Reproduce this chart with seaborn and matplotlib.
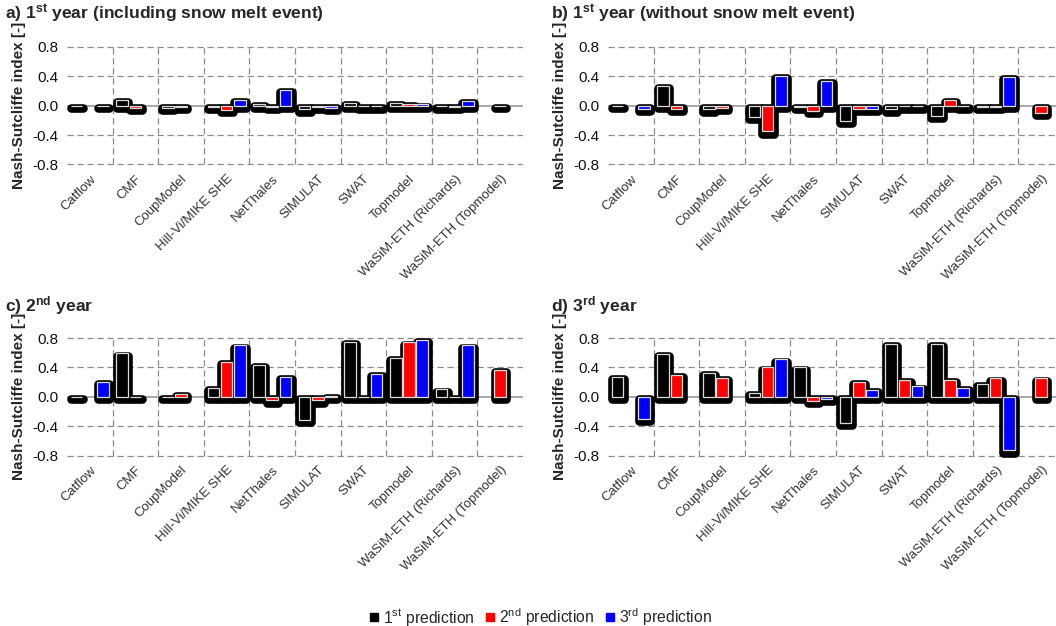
import numpy as np
import pandas as pd
import matplotlib
matplotlib.use("Agg")
import matplotlib.pyplot as plt
import matplotlib.patheffects as pe
from matplotlib.patches import Rectangle
from matplotlib.lines import Line2D
import seaborn as sns

models = ["Catflow", "CMF", "CoupModel", "Hill-Vi/MIKE SHE", "NetThales", "SIMULAT",
          "SWAT", "Topmodel", "WaSiM-ETH (Richards)", "WaSiM-ETH (Topmodel)"]
predictions = ["1st", "2nd", "3rd"]
nan = np.nan

# panel a) 1st year including snow melt event
a_p1 = [0.0, 0.08, -0.03, -0.02, 0.03, -0.05, 0.04, 0.04, -0.01, nan]
a_p2 = [nan, -0.03, -0.02, -0.06, -0.02, -0.02, -0.01, 0.03, -0.02, 0.0]
a_p3 = [0.0, nan, nan, 0.08, 0.22, -0.03, -0.01, 0.02, 0.07, nan]
# panel b) 1st year without snow melt event
b_p1 = [0.0, 0.27, -0.05, -0.15, -0.02, -0.21, -0.05, -0.14, -0.02, nan]
b_p2 = [nan, -0.04, -0.03, -0.35, -0.07, -0.04, -0.01, 0.08, -0.02, -0.10]
b_p3 = [-0.04, nan, nan, 0.41, 0.34, -0.04, -0.01, -0.01, 0.39, nan]
# panel c) 2nd year
c_p1 = [0.0, 0.59, 0.0, 0.12, 0.43, -0.32, 0.75, 0.53, 0.10, nan]
c_p2 = [nan, 0.0, 0.04, 0.47, -0.05, -0.05, 0.0, 0.74, 0.0, 0.37]
c_p3 = [0.20, nan, nan, 0.70, 0.27, 0.01, 0.31, 0.77, 0.70, nan]
# panel d) 3rd year
d_p1 = [0.27, 0.58, 0.32, 0.05, 0.40, -0.36, 0.72, 0.72, 0.18, nan]
d_p2 = [nan, 0.30, 0.26, 0.40, -0.06, 0.20, 0.23, 0.23, 0.25, 0.25]
d_p3 = [-0.30, nan, nan, 0.51, -0.03, 0.09, 0.14, 0.12, -0.73, nan]

panel_titles = [r"a) 1$^{\mathbf{st}}$ year (including snow melt event)",
                r"b) 1$^{\mathbf{st}}$ year (without snow melt event)",
                r"c) 2$^{\mathbf{nd}}$ year",
                r"d) 3$^{\mathbf{rd}}$ year"]
panel_data = [(a_p1, a_p2, a_p3), (b_p1, b_p2, b_p3), (c_p1, c_p2, c_p3), (d_p1, d_p2, d_p3)]
yticks = [-0.8, -0.4, 0.0, 0.4, 0.8]
legend_labels = [r"1$^{\rm st}$ prediction", r"2$^{\rm nd}$ prediction", r"3$^{\rm rd}$ prediction"]
colors = {"1st": "#000000", "2nd": "#ff0000", "3rd": "#0000ff"}

sns.set_theme(style="white")
plt.rcParams["font.family"] = ["Liberation Sans", "DejaVu Sans"]
plt.rcParams["mathtext.fontset"] = "custom"
plt.rcParams["mathtext.rm"] = "Liberation Sans"
plt.rcParams["mathtext.bf"] = "Liberation Sans:bold"
plt.rcParams["mathtext.it"] = "Liberation Sans:italic"

W, H = 1056, 626
fig = plt.figure(figsize=(W / 100, H / 100), dpi=100)

ypad = 0.04
px_per_unit = 117.5 / 1.6
ax_h_px = (1.6 + 2 * ypad) * px_per_unit
# (left px, top px of 0.8 line)
layout = [(67, 47), (608, 47), (67, 338), (608, 338)]
title_pos = [(5, 14), (551, 14), (5, 306), (551, 306)]

for k, (vals, title) in enumerate(zip(panel_data, panel_titles)):
    left_px, top08 = layout[k]
    top_px = top08 - ypad * px_per_unit
    ax = fig.add_axes([left_px / W, 1 - (top_px + ax_h_px) / H, 456 / W, ax_h_px / H])
    rows = []
    for pred, series in zip(predictions, vals):
        for m, v in zip(models, series):
            if not np.isnan(v):
                rows.append({"model": m, "prediction": pred, "value": v})
    df = pd.DataFrame(rows)
    sns.barplot(data=df, x="model", y="value", hue="prediction", order=models,
                hue_order=predictions, palette=colors, width=0.87, gap=0.12,
                errorbar=None, ax=ax, legend=False, edgecolor="#dcdcdc",
                linewidth=0.9, saturation=1, zorder=3)
    bars = list(ax.patches)
    for p in bars:
        sh = Rectangle(p.get_xy(), p.get_width(), p.get_height(), facecolor="black",
                       edgecolor="black", linewidth=0, zorder=2)
        sh.set_path_effects([pe.Stroke(linewidth=6.2, foreground="black",
                                       offset=(0.3, -1.6), joinstyle="round",
                                       capstyle="round")])
        ax.add_patch(sh)
    ax.set_xlim(-0.5, 9.5)
    ax.set_ylim(-0.8 - ypad, 0.8 + ypad)
    for s in ax.spines.values():
        s.set_visible(False)
    ax.hlines([-0.8, -0.4, 0.4, 0.8], -0.5, 9.5, colors="#8c8c8c", linestyles=(0, (5, 3)),
              linewidth=0.9, zorder=0.5)
    ax.vlines(np.arange(0.5, 9.5, 1.0), -0.8, 0.8, colors="#8c8c8c", linestyles=(0, (5, 3)),
              linewidth=0.9, zorder=0.5)
    ax.axhline(0, color="#9a9a9a", linewidth=1.2, zorder=1)
    ax.set_yticks(yticks)
    ax.set_yticklabels([f"{t:.1f}" for t in yticks], fontsize=11, color="#111111")
    ax.tick_params(axis="both", length=0, pad=6)
    ax.set_xticks(range(len(models)))
    ax.set_xticklabels(models, rotation=45, ha="right", rotation_mode="anchor",
                       fontsize=9.5, color="#333333")
    ax.tick_params(axis="x", pad=4)
    ax.set_xlabel("")
    ax.set_ylabel("Nash-Sutcliffe index [-]", fontsize=11, fontweight="bold", labelpad=5)
    tx, ty = title_pos[k]
    fig.text(tx / W, 1 - ty / H, title, fontsize=12.6, fontweight="bold", va="center", ha="left")

handles = [Line2D([], [], marker="s", linestyle="", color=colors[p], markersize=6) for p in predictions]
fig.legend(handles, legend_labels, loc="center", bbox_to_anchor=(539 / W, 1 - 617 / H), ncol=3,
           frameon=False, fontsize=11.3, handletextpad=0.1, columnspacing=0.45, handlelength=1.0)

fig.savefig("out.png", dpi=100)
